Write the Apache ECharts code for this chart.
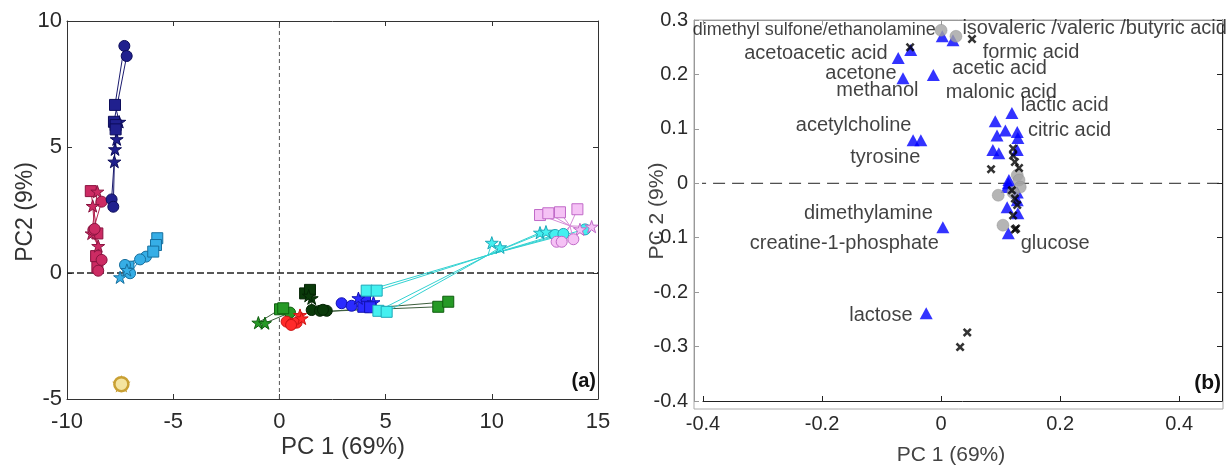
<!DOCTYPE html>
<html>
<head>
<meta charset="utf-8">
<script src="https://cdn.jsdelivr.net/npm/echarts@6/dist/echarts.min.js"></script>
<style>html,body{margin:0;padding:0;background:#fff}#c{width:1226px;height:465px}</style>
</head>
<body>
<div id="c"></div>
<script>
// ---------- Panel (a): PCA scores, trajectories [x, y, shape] (c=circle, s=square, p=star, v=vertex only)
const navyTraj = [
  [[-7.30,9.01,'c'],[-7.74,6.67,'s'],[-7.54,6.00,'p'],[-7.66,5.31,'p'],[-7.74,4.91,'p'],[-7.90,2.92,'c']],
  [[-7.19,8.61,'c'],[-7.79,6.00,'s'],[-7.71,5.87,'s'],[-7.71,5.70,'s'],[-7.77,4.42,'p'],[-7.82,2.63,'c']]
];
const crimsonTraj = [
  [[-8.88,3.25,'s'],[-8.57,1.57,'s'],[-8.63,0.67,'s'],[-8.57,0.23,'s']],
  [[-8.57,3.23,'p'],[-8.84,1.57,'p'],[-8.53,1.07,'p']],
  [[-8.37,2.83,'c'],[-8.76,1.71,'c'],[-8.37,0.52,'c'],[-8.53,0.09,'c']],
  [[-8.79,2.66,'p'],[-8.70,1.75,'c']]
];
const lightBlueTraj = [
  [[-5.75,1.38,'s'],[-6.28,0.65,'c'],[-7.11,0.25,'s'],[-7.50,-0.17,'p']],
  [[-5.81,1.11,'s'],[-6.56,0.54,'c'],[-7.03,-0.01,'c']],
  [[-5.94,0.85,'s'],[-7.27,0.32,'c'],[-7.18,0.12,'p']]
];
const goldTraj = [
  [[-7.44,-4.41,'p'],[-7.44,-4.41,'c']]
];
const greenTraj = [
  [[-0.99,-1.97,'p'],[0.03,-1.44,'s']],
  [[-0.68,-1.99,'p'],[0.50,-1.57,'c'],[0.18,-1.40,'s']],
  [[2.23,-1.52,'v'],[7.48,-1.34,'s']],
  [[2.00,-1.55,'v'],[7.95,-1.14,'s']]
];
const darkGreenTraj = [
  [[1.21,-0.81,'s'],[1.52,-1.00,'p'],[1.52,-1.47,'c'],[2.23,-1.50,'c']],
  [[1.44,-0.67,'s'],[1.38,-0.90,'p'],[1.91,-1.50,'c'],[2.05,-1.46,'c']]
];
const redTraj = [
  [[0.34,-1.93,'c'],[0.58,-2.02,'c'],[0.97,-1.67,'p']],
  [[0.81,-1.97,'c'],[1.05,-1.80,'p'],[0.55,-2.06,'c']]
];
const blueTraj = [
  [[2.93,-1.20,'c'],[4.03,-1.10,'s'],[4.43,-1.16,'p']],
  [[3.40,-1.30,'c'],[3.95,-1.34,'s'],[4.27,-1.36,'s'],[3.72,-1.00,'p']]
];
const cyanTraj = [
  [[4.11,-0.70,'s'],[9.82,0.71,'v'],[12.98,1.51,'c']],
  [[4.58,-0.70,'s'],[9.82,0.71,'v'],[12.27,1.60,'p']],
  [[4.66,-1.50,'s'],[9.82,0.71,'v'],[13.37,1.55,'c']],
  [[5.05,-1.54,'s'],[9.82,0.71,'v'],[14.39,1.73,'c']],
  [[9.82,0.71,'v'],[10.00,1.20,'p']],
  [[9.82,0.71,'v'],[10.39,1.02,'p']],
  [[9.82,0.71,'v'],[12.55,1.64,'p']]
];
const pinkTraj = [
  [[12.27,2.30,'s'],[13.68,1.87,'v'],[14.15,1.73,'p']],
  [[12.66,2.37,'s'],[13.68,1.87,'v'],[13.05,1.24,'c']],
  [[13.21,2.41,'s'],[13.68,1.87,'v'],[13.29,1.24,'c']],
  [[14.03,2.53,'s'],[13.68,1.87,'v'],[14.70,1.84,'p']],
  [[13.68,1.87,'v'],[13.84,1.34,'c']]
];

// ---------- Panel (b): loadings
const triPoints = [
  [0.002,0.270],[0.020,0.263],[-0.072,0.230],[-0.051,0.245],[-0.064,0.193],[-0.013,0.199],
  [-0.047,0.079],[-0.034,0.079],[0.003,-0.081],[-0.025,-0.239],
  [0.119,0.129],[0.091,0.114],[0.108,0.097],[0.094,0.088],[0.128,0.094],[0.129,0.083],
  [0.087,0.061],[0.097,0.055],[0.128,0.061],[0.114,0.006],[0.111,-0.007],[0.128,-0.017],
  [0.111,-0.044],[0.128,-0.031],[0.113,-0.092],[0.129,-0.055],[0.113,0.000]
];
const grayPoints = [
  [0.000,0.281],[0.025,0.270],[0.128,0.015],[0.131,0.006],[0.133,-0.007],
  [0.096,-0.022],[0.121,-0.017],[0.104,-0.077]
];
const crossPoints = [
  [-0.052,0.250],[0.052,0.265],[0.044,-0.274],[0.032,-0.301],
  [0.121,0.064],[0.121,0.051],[0.124,0.039],[0.131,0.028],[0.084,0.026],
  [0.119,-0.013],[0.124,-0.028],[0.128,-0.040],[0.121,-0.059],[0.126,-0.083],[0.124,-0.085]
];
const labelText = ['dimethyl sulfone/ethanolamine','acetoacetic acid','acetone','methanol','acetylcholine','tyrosine',
  'dimethylamine','creatine-1-phosphate','lactose',
  'isovaleric /valeric /butyric acid','formic acid','acetic acid','malonic acid','lactic acid','citric acid','glucose'];
const labelX = [-0.008,-0.089,-0.074,-0.037,-0.049,-0.034,-0.013,-0.003,-0.047,
  0.035,0.069,0.018,0.007,0.133,0.145,0.133];
const labelY = [0.281,0.239,0.202,0.171,0.107,0.048,-0.055,-0.110,-0.243,
  0.285,0.241,0.211,0.167,0.143,0.097,-0.110];
const labelSide = ['left','left','left','left','left','left','left','left','left',
  'right','right','right','right','right','right','right'];

const xTicksA = [-10, 15, 5];   // min, max, interval
const yTicksA = [-5, 10, 5];
const xTicksB = [-0.4, 0.472, 0.2];
const yTicksB = [-0.4, 0.3, 0.1];

// ---------- build
const FONT = 'Liberation Sans, Arial, sans-serif';
const STAR = 'path://M50,0L61.8,35.1L98.9,35.1L68.8,57.3L80.2,92.4L50,70.7L19.8,92.4L31.2,57.3L1.1,35.1L38.2,35.1Z';
const SYM = {c:'circle', s:'rect', p:STAR, v:'none'};
const SIZE = {c:11, s:11, p:13, v:1};
const CROSS = 'path://M0,2L2,0L5,3L8,0L10,2L7,5L10,8L8,10L5,7L2,10L0,8L3,5Z';

const groups = [
  {traj:crimsonTraj, fill:'#cc2b63', border:'#8a1440', line:'#b3234f'},
  {traj:navyTraj, fill:'#20208e', border:'#0c0c5a', line:'#1a1a6e'},
  {traj:lightBlueTraj, fill:'#36aee6', border:'#17709f', line:'#2a8ec2'},
  {traj:goldTraj, fill:'#f4e4a0', border:'#c9a033', line:'#c9a033'},
  {traj:greenTraj, fill:'#269a26', border:'#0f5e0f', line:'#3d5e3d'},
  {traj:darkGreenTraj, fill:'#0a3a0a', border:'#052505', line:'#2f4a2f'},
  {traj:redTraj, fill:'#ff2a2a', border:'#cc1212', line:'#dd2020'},
  {traj:blueTraj, fill:'#2b2bff', border:'#1212b0', line:'#2020d0'},
  {traj:cyanTraj, fill:'#44f0f0', border:'#1fa8b8', line:'#33d2d2'},
  {traj:pinkTraj, fill:'#f5c2f5', border:'#c06ac8', line:'#d68ad6'}
];

const series = [];
series.push({type:'line', xAxisIndex:0, yAxisIndex:0, data:[[0,yTicksA[0]],[0,yTicksA[1]]], showSymbol:false, silent:true,
  lineStyle:{color:'#555', width:1, type:[4,3]}, z:1});
series.push({type:'line', xAxisIndex:0, yAxisIndex:0, data:[[xTicksA[0],0],[xTicksA[1],0]], showSymbol:false, silent:true,
  lineStyle:{color:'#222', width:1.5, type:[7,3]}, z:1});
groups.forEach(g => {
  const isGold = g.traj === goldTraj;
  g.traj.forEach(t => {
    series.push({
      type:'line', xAxisIndex:0, yAxisIndex:0, silent:true, animation:false,
      showSymbol:true, showAllSymbol:true, symbolKeepAspect:true, z:2,
      data: t.map(p => ({value:[p[0],p[1]], symbol:SYM[p[2]],
        symbolSize: isGold ? (p[2]==='c' ? 14 : 11) : SIZE[p[2]],
        itemStyle: isGold && p[2]==='p' ? {color:'#d8b040', borderColor:'#c09020'} : undefined})),
      lineStyle:{color:g.line, width:1},
      itemStyle:{color:g.fill, borderColor:g.border, borderWidth:(isGold?2.5:1)}
    });
  });
});
// panel (b)
series.push({type:'line', xAxisIndex:2, yAxisIndex:2, data:[[-0.415,0],[xTicksB[1],0]], showSymbol:false, silent:true, clip:false,
  lineStyle:{color:'#222', width:1, type:[12,7]}, z:1});
series.push({type:'scatter', xAxisIndex:2, yAxisIndex:2, data:triPoints, symbol:'triangle', symbolSize:[13,12],
  itemStyle:{color:'#0000ff'}, silent:true, z:3});
series.push({type:'scatter', xAxisIndex:2, yAxisIndex:2, data:grayPoints, symbol:'circle', symbolSize:12,
  itemStyle:{color:'#a3a3a3', borderColor:'#8c8c8c', borderWidth:0.5}, silent:true, z:4});
series.push({type:'scatter', xAxisIndex:2, yAxisIndex:2, data:crossPoints, symbol:CROSS, symbolSize:9,
  itemStyle:{color:'#000'}, silent:true, z:5});
series.push({type:'scatter', xAxisIndex:2, yAxisIndex:2, silent:true, z:6, symbolSize:1,
  itemStyle:{color:'rgba(0,0,0,0)'},
  data: labelText.map((t,i) => ({value:[labelX[i],labelY[i]], name:t,
    label:{show:true, position:labelSide[i], distance:0, formatter:t, fontFamily:FONT,
      fontSize:(i===0?18:20), color:'#111'}}))
});

function axisCommon(color, showLabel, fontSize, margin) {
  return {
    axisLine:{show:true, onZero:false, lineStyle:{color:color, width:1}},
    axisTick:{show:true, inside:true, length:5, lineStyle:{color:color}},
    axisLabel:{show:showLabel, fontSize:fontSize, color:'#2a2a2a', fontFamily:FONT, margin:margin},
    splitLine:{show:false}
  };
}

const option = {
  animation:false,
  backgroundColor:'#fff',
  grid:[
    {left:67, top:21, width:531, height:378},
    {left:703, top:20, width:519, height:381}
  ],
  xAxis:[
    Object.assign({type:'value', gridIndex:0, position:'bottom', min:xTicksA[0], max:xTicksA[1], interval:xTicksA[2]}, axisCommon('#333', true, 22, 12)),
    Object.assign({type:'value', gridIndex:0, position:'top', min:xTicksA[0], max:xTicksA[1], interval:xTicksA[2]}, axisCommon('#333', false, 22, 8)),
    Object.assign({type:'value', gridIndex:1, position:'bottom', min:xTicksB[0], max:xTicksB[1], interval:xTicksB[2]}, axisCommon('#222', true, 20, 13)),
    Object.assign({type:'value', gridIndex:1, position:'top', min:xTicksB[0], max:xTicksB[1], interval:xTicksB[2]}, axisCommon('#999', false, 20, 8))
  ],
  yAxis:[
    Object.assign({type:'value', gridIndex:0, position:'left', min:yTicksA[0], max:yTicksA[1], interval:yTicksA[2]}, axisCommon('#333', true, 22, 5)),
    Object.assign({type:'value', gridIndex:0, position:'right', min:yTicksA[0], max:yTicksA[1], interval:yTicksA[2]}, axisCommon('#333', false, 22, 8)),
    Object.assign({type:'value', gridIndex:1, position:'left', offset:9, min:yTicksB[0], max:yTicksB[1], interval:yTicksB[2]}, axisCommon('#999', true, 20, 6)),
    Object.assign({type:'value', gridIndex:1, position:'right', min:yTicksB[0], max:yTicksB[1], interval:yTicksB[2]}, axisCommon('#222', false, 20, 8))
  ],
  graphic:[
    {type:'rect', shape:{x:694, y:20, width:529, height:389}, style:{fill:'none', stroke:'#aaa', lineWidth:1}, silent:true, z:0},
    {type:'text', x:343, y:447, style:{text:'PC 1 (69%)', fontSize:24, fontFamily:FONT, fill:'#333', align:'center', verticalAlign:'middle'}},
    {type:'text', x:26, y:212, rotation:Math.PI/2, style:{text:'PC2 (9%)', fontSize:23, fontFamily:FONT, fill:'#333', align:'center', verticalAlign:'middle'}},
    {type:'text', x:951, y:455, style:{text:'PC 1 (69%)', fontSize:21, fontFamily:FONT, fill:'#444', align:'center', verticalAlign:'middle'}},
    {type:'text', x:657, y:211, rotation:Math.PI/2, style:{text:'PC 2 (9%)', fontSize:21, fontFamily:FONT, fill:'#444', align:'center', verticalAlign:'middle'}},
    {type:'text', x:596, y:381, style:{text:'(a)', fontSize:20, fontWeight:'bold', fontFamily:FONT, fill:'#111', align:'right', verticalAlign:'middle'}},
    {type:'text', x:1221, y:383, style:{text:'(b)', fontSize:21, fontWeight:'bold', fontFamily:FONT, fill:'#111', align:'right', verticalAlign:'middle'}}
  ],
  series:series
};
option.xAxis[2].axisLabel.showMaxLabel = false;
const chart = echarts.init(document.getElementById('c'), null, {renderer:'canvas'});
chart.setOption(option);
</script>
</body>
</html>
